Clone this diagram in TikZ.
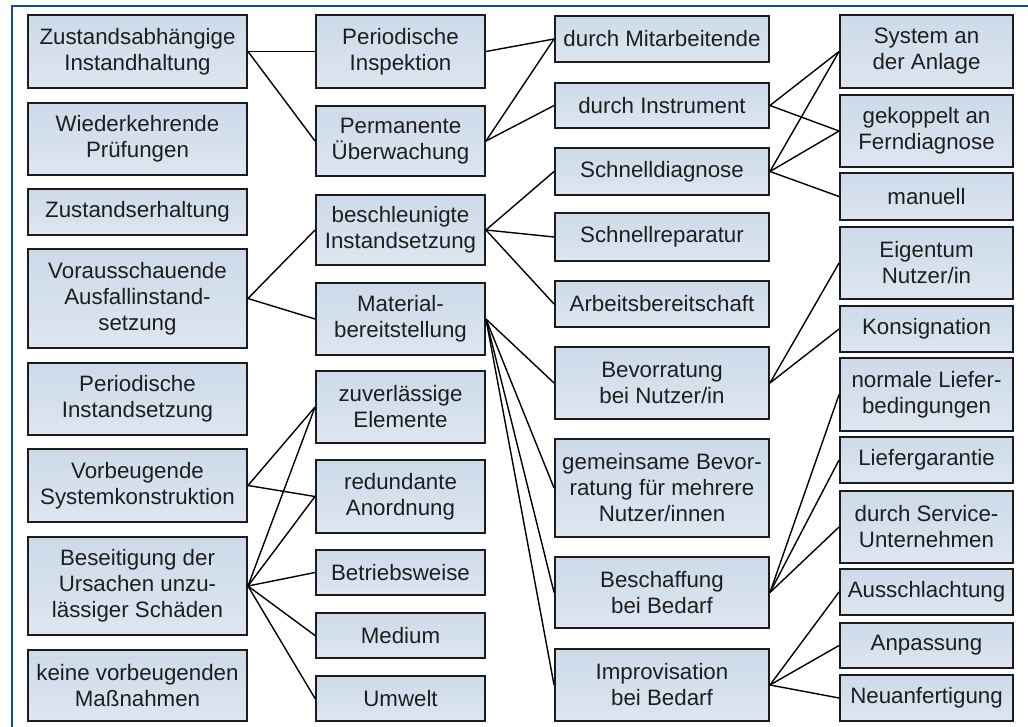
\documentclass[tikz,border=0pt]{standalone}
\usepackage{fontspec}
\setmainfont{Liberation Sans}
\definecolor{framebl}{HTML}{0B4EA0}
\definecolor{boxtop}{HTML}{CDDAE9}
\definecolor{boxbot}{HTML}{DDE6F1}
\definecolor{boxedge}{HTML}{1C1C1C}
\definecolor{ink}{HTML}{1E1E1E}
\tikzset{
  box/.style={draw=boxedge, line width=1.9pt, top color=boxtop, bottom color=boxbot,
    align=center, inner sep=0pt, text=ink, font=\fontsize{22.3}{26}\selectfont},
  link/.style={draw=black, line width=1.4pt},
  frameline/.style={draw=framebl, line width=2.6pt}
}
% \bx{name}{x1}{y1}{x2}{y2}{text}
\newcommand\bx[6]{\node[box, minimum width={#4-#2}, minimum height={#5-#3}] (#1) at ({(#2+#4)/2},{(#3+#5)/2}) {#6};}
\begin{document}
\begin{tikzpicture}[x=1pt,y=-1pt]
\useasboundingbox (0,0) rectangle (1028,727);
\fill[white] (0,0) rectangle (1028,727);
\draw[frameline] (12,727) -- (12,6) -- (1028,6);

% column 1
\bx{a1}{28}{15}{247}{88}{Zustandsabhängige\\Instandhaltung}
\bx{a2}{28}{103}{247}{175}{Wiederkehrende\\Prüfungen}
\bx{a3}{28}{189}{247}{235}{Zustandserhaltung}
\bx{a4}{28}{249}{247}{348}{Vorausschauende\\Ausfallinstand-\\setzung}
\bx{a5}{28}{363}{247}{435}{Periodische\\Instandsetzung}
\bx{a6}{28}{449}{247}{522}{Vorbeugende\\Systemkonstruktion}
\bx{a7}{28}{537}{247}{635}{Beseitigung der\\Ursachen unzu-\\lässiger Schäden}
\bx{a8}{28}{650}{247}{721}{keine vorbeugenden\\Maßnahmen}

% column 2
\bx{b1}{316}{15}{485}{88}{Periodische\\Inspektion}
\bx{b2}{316}{106}{485}{176}{Permanente\\Überwachung}
\bx{b3}{316}{195}{485}{265}{beschleunigte\\Instandsetzung}
\bx{b4}{316}{283}{485}{355}{Material-\\bereitstellung}
\bx{b5}{316}{371}{485}{443}{zuverlässige\\Elemente}
\bx{b6}{316}{460}{485}{533}{redundante\\Anordnung}
\bx{b7}{316}{550}{485}{595}{Betriebsweise}
\bx{b8}{316}{613}{485}{658}{Medium}
\bx{b9}{316}{676}{485}{721}{Umwelt}

% column 3
\bx{c1}{555}{16}{769}{62}{durch Mitarbeitende}
\bx{c2}{555}{83}{769}{128}{durch Instrument}
\bx{c3}{555}{148}{769}{195}{Schnelldiagnose}
\bx{c4}{555}{213}{769}{261}{Schnellreparatur}
\bx{c5}{555}{281}{769}{327}{Arbeitsbereitschaft}
\bx{c6}{555}{347}{769}{419}{Bevorratung\\bei Nutzer/in}
\bx{c7}{555}{439}{769}{537}{gemeinsame Bevor-\\ratung für mehrere\\Nutzer/innen}
\bx{c8}{555}{557}{769}{628}{Beschaffung\\bei Bedarf}
\bx{c9}{555}{649}{769}{721}{Improvisation\\bei Bedarf}

% column 4
\bx{d1}{840}{15}{1013}{88}{System an\\der Anlage}
\bx{d2}{840}{95}{1013}{167}{gekoppelt an\\Ferndiagnose}
\bx{d3}{840}{173}{1013}{220}{manuell}
\bx{d4}{840}{227}{1013}{299}{Eigentum\\Nutzer/in}
\bx{d5}{840}{306}{1013}{352}{Konsignation}
\bx{d6}{840}{358}{1013}{431}{normale Liefer-\\bedingungen}
\bx{d7}{840}{437}{1013}{483}{Liefergarantie}
\bx{d8}{840}{491}{1013}{563}{durch Service-\\Unternehmen}
\bx{d9}{840}{569}{1013}{615}{Ausschlachtung}
\bx{d10}{840}{623}{1013}{668}{Anpassung}
\bx{d11}{840}{675}{1013}{721}{Neuanfertigung}

% connectors column 1 -> column 2
\draw[link] (a1.east) -- (b1.west);
\draw[link] (a1.east) -- (b2.west);
\draw[link] (a4.east) -- (b3.west);
\draw[link] (a4.east) -- (b4.west);
\draw[link] (a6.east) -- (b5.west);
\draw[link] (a6.east) -- (b6.west);
\foreach \t in {b5,b6,b7,b8,b9} \draw[link] (a7.east) -- (\t.west);

% connectors column 2 -> column 3
\draw[link] (b1.east) -- (c1.west);
\draw[link] (b2.east) -- (c1.west);
\draw[link] (b2.east) -- (c2.west);
\foreach \t in {c3,c4,c5} \draw[link] (b3.east) -- (\t.west);
\foreach \t in {c6,c7,c8,c9} \draw[link] (b4.east) -- (\t.west);

% connectors column 3 -> column 4
\draw[link] (c2.east) -- (d1.west);
\draw[link] (c2.east) -- (d2.west);
\foreach \t in {d1,d2,d3} \draw[link] (c3.east) -- (\t.west);
\draw[link] (c6.east) -- (d4.west);
\draw[link] (c6.east) -- (d5.west);
\foreach \t in {d6,d7,d8} \draw[link] (c8.east) -- (\t.west);
\foreach \t in {d9,d10,d11} \draw[link] (c9.east) -- (\t.west);
\end{tikzpicture}
\end{document}
